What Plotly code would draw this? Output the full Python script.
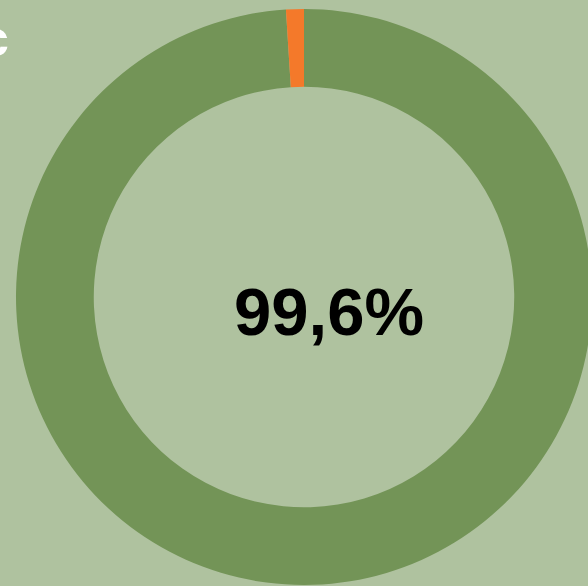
import plotly.graph_objects as go

# Data
categories = ["Réalisé", "Restant"]
values = [99.0, 1.0]
center_label = "99,6%"
corner_label = "c"

BG = "#AFC29F"
GREEN = "#739457"
ORANGE = "#F4792A"

W, H = 620, 586  # figure larger than window; right part gets clipped

fig = go.Figure(
    go.Pie(
        labels=categories,
        values=values,
        hole=0.73,
        sort=False,
        direction="clockwise",
        rotation=0,
        marker=dict(colors=[GREEN, ORANGE], line=dict(width=0)),
        textinfo="none",
        hoverinfo="label+percent",
        showlegend=False,
        domain=dict(x=[16 / W, 592 / W], y=[1 / H, 577 / H]),
    )
)

fig.add_annotation(
    text=center_label,
    x=329 / W, y=(H - 311) / H, xref="paper", yref="paper",
    xanchor="center", yanchor="middle", showarrow=False,
    font=dict(family="Liberation Sans Narrow, Arial Narrow, Liberation Sans, Arial",
              size=67, color="black", weight="bold"),
)
fig.add_annotation(
    text=corner_label,
    x=11 / W, y=(H - 39) / H, xref="paper", yref="paper",
    xanchor="right", yanchor="middle", showarrow=False,
    font=dict(family="Liberation Sans, Arial", size=50, color="white", weight="bold"),
)

fig.update_layout(
    width=W, height=H,
    margin=dict(l=0, r=0, t=0, b=0),
    paper_bgcolor=BG, plot_bgcolor=BG,
)

fig.write_html(
    "out.html",
    post_script="document.body.style.overflow='hidden';document.documentElement.style.overflow='hidden';document.body.style.margin='0';",
)
